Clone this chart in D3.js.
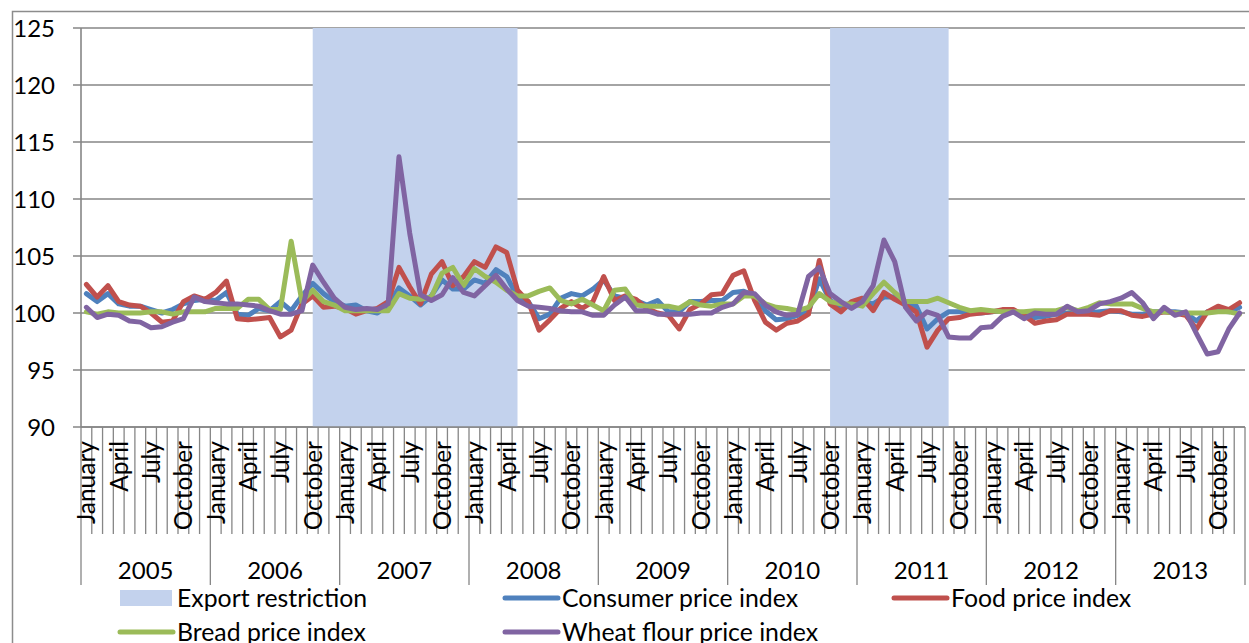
<!DOCTYPE html>
<html>
<head>
<meta charset="utf-8">
<script src="https://cdn.jsdelivr.net/npm/d3@7"></script>
<style>
  body { margin: 0; background: #fff; }
  svg { display: block; font-family: Lato, "Liberation Sans", sans-serif; }
</style>
</head>
<body>
<div id="chart"></div>
<script>
// data
const years = ["2005", "2006", "2007", "2008", "2009", "2010", "2011", "2012", "2013"];
const monthNames = ["January", "", "", "April", "", "", "July", "", "", "October", "", ""];

// export restriction periods, [first month, last month] as month index from January 2005
const restrictions = [[21, 40], [69, 80]];

const cpi = [
  101.7, 101.0, 101.7, 100.8, 100.6, 100.6, 100.3, 100.0, 100.3, 100.8, 101.1, 101.2,
  101.1, 101.8, 99.9, 99.8, 100.4, 100.2, 101.0, 100.2, 101.5, 102.6, 101.7, 101.0,
  100.6, 100.7, 100.2, 100.0, 100.7, 102.2, 101.5, 100.7, 101.5, 102.9, 102.1, 102.1,
  102.9, 102.6, 103.8, 103.2, 101.4, 101.0, 99.5, 99.9, 101.3, 101.7, 101.5, 102.1,
  102.9, 101.5, 101.3, 101.1, 100.7, 101.1, 100.1, 100.1, 101.0, 101.0, 101.1, 101.1,
  101.8, 101.9, 101.5, 100.2, 99.4, 99.5, 99.8, 100.1, 103.0, 101.1, 100.5, 100.8,
  101.0, 100.8, 101.4, 101.4, 101.0, 100.6, 98.6, 99.5, 100.1, 100.1, 100.0, 100.0,
  100.1, 100.2, 100.1, 99.9, 99.6, 99.7, 99.9, 100.0, 100.1, 100.0, 100.1, 100.2,
  100.1, 99.9, 99.9, 100.1, 100.1, 100.1, 100.0, 99.3, 100.1, 100.2, 100.1, 100.5
];
const food = [
  102.5, 101.4, 102.4, 101.0, 100.7, 100.6, 100.0, 99.2, 99.3, 101.0, 101.5, 101.2,
  101.8, 102.8, 99.5, 99.4, 99.5, 99.6, 97.9, 98.5, 100.8, 101.5, 100.5, 100.6,
  100.4, 99.9, 100.2, 100.4, 101.0, 104.0, 102.3, 100.8, 103.4, 104.5, 102.4, 103.2,
  104.5, 104.0, 105.8, 105.3, 102.0, 101.0, 98.5, 99.4, 100.4, 101.0, 100.4, 101.0,
  103.2, 101.1, 101.5, 101.2, 100.4, 100.0, 99.8, 98.6, 100.3, 100.8, 101.6, 101.7,
  103.3, 103.7, 101.1, 99.2, 98.5, 99.1, 99.3, 99.9, 104.6, 100.8, 100.1, 101.0,
  101.3, 100.2, 101.8, 101.2, 100.7, 100.1, 97.0, 98.5, 99.5, 99.6, 99.9, 100.0,
  100.1, 100.3, 100.3, 99.8, 99.1, 99.3, 99.4, 99.9, 99.9, 99.9, 99.8, 100.2,
  100.2, 99.8, 99.7, 99.9, 100.1, 100.0, 99.8, 98.6, 100.1, 100.6, 100.3, 100.9
];
const bread = [
  100.1, 99.9, 100.1, 100.0, 100.0, 100.0, 100.1, 100.1, 99.9, 100.1, 100.1, 100.1,
  100.4, 100.4, 100.4, 101.2, 101.2, 100.3, 100.3, 106.3, 101.0, 102.0, 101.0, 100.7,
  100.2, 100.2, 100.2, 100.2, 100.2, 101.7, 101.3, 101.2, 101.4, 103.5, 104.0, 102.4,
  103.9, 103.2, 102.7, 102.0, 101.5, 101.5, 101.9, 102.2, 101.1, 100.8, 101.2, 100.7,
  100.2, 102.0, 102.1, 100.7, 100.6, 100.6, 100.6, 100.4, 101.0, 100.7, 100.6, 100.8,
  100.8, 101.5, 101.5, 100.8, 100.5, 100.4, 100.2, 100.5, 101.7, 101.0, 100.8, 100.8,
  100.6, 101.7, 102.7, 101.8, 101.0, 101.0, 101.0, 101.3, 100.9, 100.5, 100.2, 100.3,
  100.2, 100.1, 100.1, 100.1, 100.2, 100.2, 100.2, 100.5, 100.2, 100.5, 100.9, 100.8,
  100.8, 100.8, 100.4, 100.1, 100.1, 100.0, 100.0, 100.0, 100.0, 100.1, 100.1, 99.9
];
const wheat = [
  100.5, 99.6, 99.9, 99.8, 99.3, 99.2, 98.7, 98.8, 99.2, 99.5, 101.4, 101.0,
  100.9, 100.8, 100.8, 100.7, 100.6, 100.2, 99.9, 99.9, 100.2, 104.2, 102.7, 101.3,
  100.5, 100.3, 100.4, 100.3, 100.8, 113.7, 107.0, 101.6, 101.1, 101.6, 103.1, 101.8,
  101.5, 102.4, 103.3, 102.1, 101.1, 100.6, 100.5, 100.4, 100.2, 100.1, 100.1, 99.8,
  99.8, 100.7, 101.4, 100.2, 100.2, 99.9, 99.9, 99.9, 99.9, 100.0, 100.0, 100.5,
  100.8, 101.8, 101.7, 100.7, 100.1, 99.8, 99.9, 103.2, 104.0, 101.7, 101.0, 100.4,
  101.0, 102.4, 106.4, 104.5, 100.5, 99.3, 100.1, 99.8, 97.9, 97.8, 97.8, 98.7,
  98.8, 99.7, 100.1, 99.5, 100.0, 99.9, 99.9, 100.6, 100.1, 100.2, 100.8, 101.0,
  101.3, 101.8, 100.9, 99.5, 100.5, 99.8, 100.1, 98.2, 96.4, 96.6, 98.6, 100.0
];

const series = [
  { name: "Consumer price index", values: cpi, color: "#4f81bd" },
  { name: "Food price index", values: food, color: "#c0504d" },
  { name: "Bread price index", values: bread, color: "#9bbb59" },
  { name: "Wheat flour price index", values: wheat, color: "#8064a2" }
];

const width = 1249;
const height = 643;
const margin = { top: 28, right: 4, bottom: 216, left: 81 };
const shadeColor = "#c3d2ed";
const gridColor = "#868686";
const lineWidth = 5;

const svg = d3.select("#chart")
  .append("svg")
  .attr("width", width)
  .attr("height", height);

// outer frame of the chart
svg.append("rect")
  .attr("x", 12.5).attr("y", 11.5)
  .attr("width", 1300).attr("height", 700)
  .attr("fill", "none")
  .attr("stroke", "#8c8c8c")
  .attr("stroke-width", 1.5);

const months = d3.range(years.length * 12);
const x = d3.scaleBand()
  .domain(months)
  .range([margin.left, width - margin.right])
  .padding(0);
const cx = (i) => x(i) + x.bandwidth() / 2;

const y = d3.scaleLinear()
  .domain([90, 125])
  .range([height - margin.bottom, margin.top]);

const plotLeft = margin.left, plotRight = width - margin.right;
const plotBottom = height - margin.bottom;

// gridlines + left ticks
const yTicks = d3.range(90, 126, 5);
svg.append("g")
  .selectAll("line")
  .data(yTicks)
  .join("line")
  .attr("x1", plotLeft - 8)
  .attr("x2", plotRight)
  .attr("y1", (d) => y(d))
  .attr("y2", (d) => y(d))
  .attr("stroke", gridColor)
  .attr("stroke-width", 1.6);

svg.append("g")
  .selectAll("text")
  .data(yTicks)
  .join("text")
  .attr("x", 55)
  .attr("y", (d) => y(d))
  .attr("dy", "0.36em")
  .attr("text-anchor", "end")
  .attr("font-size", "24px")
  .attr("fill", "#000")
  .text((d) => d);

// export restriction shading
svg.append("g")
  .selectAll("rect")
  .data(restrictions)
  .join("rect")
  .attr("x", (d) => cx(d[0]))
  .attr("y", y(125))
  .attr("width", (d) => cx(d[1]) - cx(d[0]))
  .attr("height", y(90) - y(125))
  .attr("fill", shadeColor);

// axes lines
svg.append("line")
  .attr("x1", plotLeft).attr("x2", plotLeft)
  .attr("y1", margin.top).attr("y2", plotBottom)
  .attr("stroke", gridColor).attr("stroke-width", 1.6);

// category axis: month ticks and year ticks
const monthLen = 107, yearLen = 158;
svg.append("g")
  .selectAll("line")
  .data(d3.range(months.length + 1))
  .join("line")
  .attr("x1", (i) => (i < months.length ? x(i) : plotRight))
  .attr("x2", (i) => (i < months.length ? x(i) : plotRight))
  .attr("y1", plotBottom)
  .attr("y2", (i) => plotBottom + (i % 12 === 0 ? yearLen : monthLen))
  .attr("stroke", gridColor)
  .attr("stroke-width", 1.3);

svg.append("line")
  .attr("x1", plotLeft).attr("x2", plotRight)
  .attr("y1", plotBottom).attr("y2", plotBottom)
  .attr("stroke", gridColor).attr("stroke-width", 1.6);

svg.append("g")
  .selectAll("text")
  .data(months.filter((i) => monthNames[i % 12] !== ""))
  .join("text")
  .attr("transform", (i) => `translate(${cx(i) + 9},${plotBottom + 14}) rotate(-90)`)
  .attr("text-anchor", "end")
  .attr("font-size", "24.5px")
  .attr("fill", "#000")
  .text((i) => monthNames[i % 12]);

svg.append("g")
  .selectAll("text")
  .data(years)
  .join("text")
  .attr("x", (d, k) => (x(k * 12) + (k === years.length - 1 ? plotRight : x(k * 12 + 12))) / 2)
  .attr("y", 579)
  .attr("text-anchor", "middle")
  .attr("font-size", "24px")
  .attr("fill", "#000")
  .text((d) => d);

// series lines
const line = d3.line()
  .x((d, i) => cx(i))
  .y((d) => y(d));

svg.append("g")
  .selectAll("path")
  .data(series)
  .join("path")
  .attr("d", (d) => line(d.values))
  .attr("fill", "none")
  .attr("stroke", (d) => d.color)
  .attr("stroke-width", lineWidth)
  .attr("stroke-linejoin", "round")
  .attr("stroke-linecap", "round");

// legend
const legendItems = [
  { name: "Export restriction", type: "area", color: shadeColor, x: 118, y: 598 },
  { name: series[0].name, type: "line", color: series[0].color, x: 503, y: 598 },
  { name: series[1].name, type: "line", color: series[1].color, x: 892, y: 598 },
  { name: series[2].name, type: "line", color: series[2].color, x: 118, y: 632 },
  { name: series[3].name, type: "line", color: series[3].color, x: 503, y: 632 }
];

const legend = svg.append("g")
  .selectAll("g")
  .data(legendItems)
  .join("g")
  .attr("transform", (d) => `translate(${d.x},${d.y})`);

legend.filter((d) => d.type === "area")
  .append("rect")
  .attr("x", 2).attr("y", -8)
  .attr("width", 52).attr("height", 16)
  .attr("fill", (d) => d.color);

legend.filter((d) => d.type === "line")
  .append("line")
  .attr("x1", 2).attr("x2", 55)
  .attr("y1", 0).attr("y2", 0)
  .attr("stroke", (d) => d.color)
  .attr("stroke-width", lineWidth)
  .attr("stroke-linecap", "round");

legend.append("text")
  .attr("x", 59)
  .attr("y", 0)
  .attr("dy", "0.36em")
  .attr("font-size", "24.8px")
  .attr("fill", "#000")
  .text((d) => d.name);
</script>
</body>
</html>
